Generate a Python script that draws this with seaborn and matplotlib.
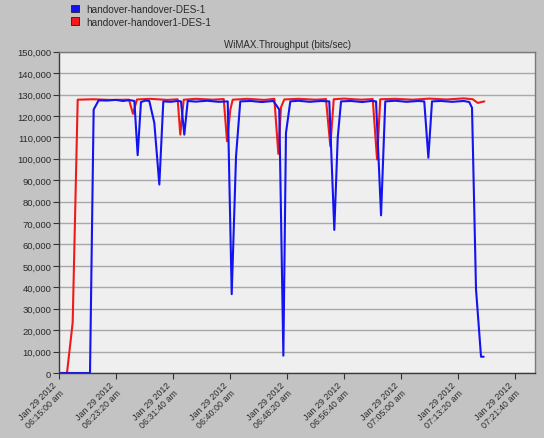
import datetime as dt
import numpy as np
import pandas as pd
import matplotlib
matplotlib.use("Agg")
import matplotlib.pyplot as plt
from matplotlib.patches import Patch
from matplotlib.ticker import FuncFormatter, MultipleLocator
import seaborn as sns

# ---------------- data (seconds after 06:15:00, bits/sec) ----------------
blue_name = "handover-handover-DES-1"
red_name = "handover-handover1-DES-1"

blue_t = [0, 272, 304, 348, 420, 500, 560, 620, 661, 690, 719, 760, 792, 836, 880,
          915, 980, 1040, 1070, 1099, 1129, 1200, 1300, 1400, 1480, 1515, 1553, 1590,
          1680, 1780, 1880, 1932, 1968, 1991, 2029, 2100, 2200, 2300, 2371, 2415,
          2445, 2474, 2560, 2660, 2740, 2781, 2825, 2862, 2950, 3050, 3150, 3204,
          3240, 3272, 3350, 3450, 3550, 3599, 3623, 3658, 3702, 3725]
blue_v = [0, 0, 123000, 127300, 127200, 127500, 127000, 127400, 127000, 101700, 126500,
          127200, 127000, 116800, 88000, 126800, 126600, 127000, 126800, 111300, 127000,
          126700, 127100, 126600, 126800, 36800, 101200, 126800, 127000, 126500, 127000,
          123000, 8100, 112100, 126800, 127100, 126600, 127000, 126800, 66800, 109800,
          126800, 127000, 126500, 127000, 126800, 73600, 126800, 127100, 126600, 127000,
          126800, 100500, 126800, 127000, 126600, 127000, 126500, 123800, 39100, 7600, 7600]

red_t = [0, 70, 120, 164, 300, 450, 614, 649, 684, 800, 950, 1041, 1064, 1094, 1200,
         1350, 1445, 1474, 1503, 1524, 1650, 1800, 1889, 1924, 1947, 1976, 2100, 2250,
         2342, 2380, 2410, 2500, 2650, 2752, 2790, 2818, 2950, 3100, 3250, 3400, 3550,
         3629, 3673, 3731]
red_v = [0, 0, 23600, 127600, 127800, 127500, 127600, 121000, 127700, 128000, 127500,
         127800, 111300, 127600, 128000, 127600, 127900, 108200, 123000, 127600, 128000,
         127500, 128000, 102300, 124000, 127700, 128000, 127600, 127900, 105900, 127800,
         128100, 127600, 127900, 99700, 127800, 128000, 127600, 128100, 127700, 128200,
         127800, 126100, 126800]

tick_seconds = [0, 500, 1000, 1500, 2000, 2500, 3000, 3500, 4000]
y_ticks = list(range(0, 150001, 10000))
start_time = dt.datetime(2012, 1, 29, 6, 15, 0)
title_text = "WiMAX.Throughput (bits/sec)"

# ---------------- figure ----------------
sns.set_theme(style="white")
plt.rcParams["font.family"] = ["Liberation Sans", "DejaVu Sans"]

W, H = 544, 439
fig = plt.figure(figsize=(W / 100, H / 100), dpi=100)
outer = "#c3c3c3"
fig.patch.set_facecolor(outer)

left, right, top, bottom = 59, 535, 52.7, 374
ax = fig.add_axes([left / W, 1 - bottom / H, (right - left) / W, (bottom - top) / H])
ax.set_facecolor("#efefef")

df = pd.concat([
    pd.DataFrame({"t": red_t, "v": red_v, "series": red_name}),
    pd.DataFrame({"t": blue_t, "v": blue_v, "series": blue_name}),
], ignore_index=True)

sns.lineplot(data=df, x="t", y="v", hue="series", hue_order=[red_name, blue_name],
             palette={red_name: "#f01a1a", blue_name: "#1414f0"}, estimator=None,
             sort=False, linewidth=1.5, legend=False, ax=ax)

sec_per_px = 500 / 57.0
ax.set_xlim(0, (right - left) * sec_per_px)
ax.set_ylim(0, 150000)

ax.set_yticks(y_ticks)
ax.yaxis.set_major_formatter(FuncFormatter(lambda v, p: f"{int(v):,}"))
ax.set_xticks(tick_seconds)
labels = []
for s in tick_seconds:
    t = start_time + dt.timedelta(seconds=s)
    labels.append(t.strftime("Jan 29 2012\n%I:%M:%S ") + t.strftime("%p").lower())
ax.set_xticklabels(labels)
for lab in ax.get_xticklabels():
    lab.set_rotation(45)
    lab.set_ha("right")
    lab.set_va("center")
    lab.set_rotation_mode("anchor")
    lab.set_multialignment("right")

ax.grid(axis="y", color="#a8a8a8", linewidth=1.0)
ax.grid(axis="x", visible=False)
ax.set_axisbelow(True)
ax.set_xlabel("")
ax.set_ylabel("")

ax.tick_params(axis="y", which="major", direction="out", length=4, width=0.8,
               color="#333333", labelsize=6.8, labelcolor="#2a2a2a", pad=1.5, left=True)
ax.tick_params(axis="x", which="major", direction="out", length=4, width=0.8,
               color="#333333", labelsize=6.4, labelcolor="#2a2a2a", pad=6, bottom=True)

for side in ["left", "bottom"]:
    ax.spines[side].set_color("#3a3a3a")
    ax.spines[side].set_linewidth(1.0)
for side in ["top", "right"]:
    ax.spines[side].set_color("#7a7a7a")
    ax.spines[side].set_linewidth(1.0)

fig.text(288 / W, 1 - 45 / H, title_text, ha="center", va="center",
         fontsize=7, color="#2a2a2a")

handles = [Patch(facecolor="#1414f0", edgecolor="#202020", linewidth=0.6),
           Patch(facecolor="#f01a1a", edgecolor="#202020", linewidth=0.6)]
fig.legend(handles, [blue_name, red_name], loc="upper left",
           bbox_to_anchor=(69 / W, 1 - 3 / H), frameon=False, fontsize=7.2,
           handlelength=0.8, handleheight=0.8, handletextpad=0.7,
           labelspacing=0.25, borderaxespad=0, borderpad=0.2,
           labelcolor="#2a2a2a")

fig.savefig("out.png", dpi=100, facecolor=outer)
